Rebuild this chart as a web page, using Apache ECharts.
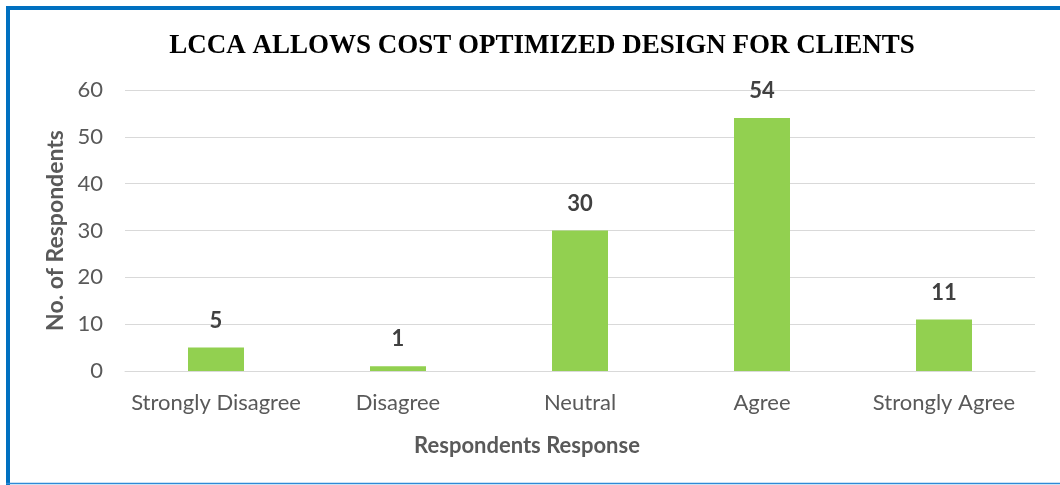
<!DOCTYPE html>
<html>
<head>
<meta charset="utf-8">
<style>
  html, body { margin: 0; padding: 0; background: #ffffff; }
  #chart { width: 1060px; height: 485px; }
</style>
<script src="https://cdn.jsdelivr.net/npm/echarts@6/dist/echarts.min.js"></script>
</head>
<body>
<div id="chart"></div>
<script>
// Survey responses: how many respondents chose each option
const categories = ['Strongly Disagree', 'Disagree', 'Neutral', 'Agree', 'Strongly Agree'];
const respondents = [5, 1, 30, 54, 11];
const yTicks = { min: 0, max: 60, interval: 10 };

const chart = echarts.init(document.getElementById('chart'), null, { renderer: 'canvas' });
const bodyFont = 'Lato, "Open Sans", sans-serif';

chart.setOption({
  backgroundColor: '#ffffff',
  animation: false,
  title: {
    text: 'LCCA ALLOWS COST OPTIMIZED DESIGN FOR CLIENTS',
    left: 537,
    textAlign: 'center',
    top: 28,
    textStyle: {
      fontFamily: '"Liberation Serif", "Times New Roman", serif',
      fontWeight: 'bold',
      fontSize: 27,
      color: '#000000'
    }
  },
  grid: { left: 125, right: 25, top: 90, bottom: 114 },
  xAxis: {
    type: 'category',
    data: categories,
    name: 'Respondents Response',
    nameLocation: 'middle',
    nameGap: 64,
    nameTextStyle: {
      fontFamily: bodyFont, fontWeight: 'bold', fontSize: 22, color: '#595959',
      padding: [0, 106, 0, 0]
    },
    axisLine: { show: true, lineStyle: { color: '#d9d9d9', width: 1 } },
    axisTick: { show: false },
    axisLabel: { interval: 0, fontFamily: bodyFont, fontSize: 22, color: '#595959', margin: 21 }
  },
  yAxis: {
    type: 'value',
    min: yTicks.min,
    max: yTicks.max,
    interval: yTicks.interval,
    name: 'No. of Respondents',
    nameLocation: 'middle',
    nameGap: 58,
    nameRotate: 90,
    nameTextStyle: { fontFamily: bodyFont, fontWeight: 'bold', fontSize: 23, color: '#595959' },
    axisLine: { show: false },
    axisTick: { show: false },
    axisLabel: { fontFamily: bodyFont, fontSize: 22, color: '#595959', margin: 22 },
    splitLine: { lineStyle: { color: '#d9d9d9', width: 1 } }
  },
  series: [{
    type: 'bar',
    data: respondents,
    barWidth: 56,
    itemStyle: { color: '#92d050' },
    label: {
      show: true,
      position: 'top',
      distance: 16,
      fontFamily: bodyFont,
      fontWeight: 'bold',
      fontSize: 22,
      color: '#404040'
    }
  }],
  graphic: [
    { type: 'line', shape: { x1: 8, y1: 6, x2: 8, y2: 485 }, style: { stroke: '#0070c0', lineWidth: 4 } },
    { type: 'line', shape: { x1: 6, y1: 8, x2: 1060, y2: 8 }, style: { stroke: '#0070c0', lineWidth: 4 } },
    { type: 'line', shape: { x1: 6, y1: 483.5, x2: 1060, y2: 483.5 }, style: { stroke: '#2e8ad6', lineWidth: 1.5 } }
  ]
});
</script>
</body>
</html>
